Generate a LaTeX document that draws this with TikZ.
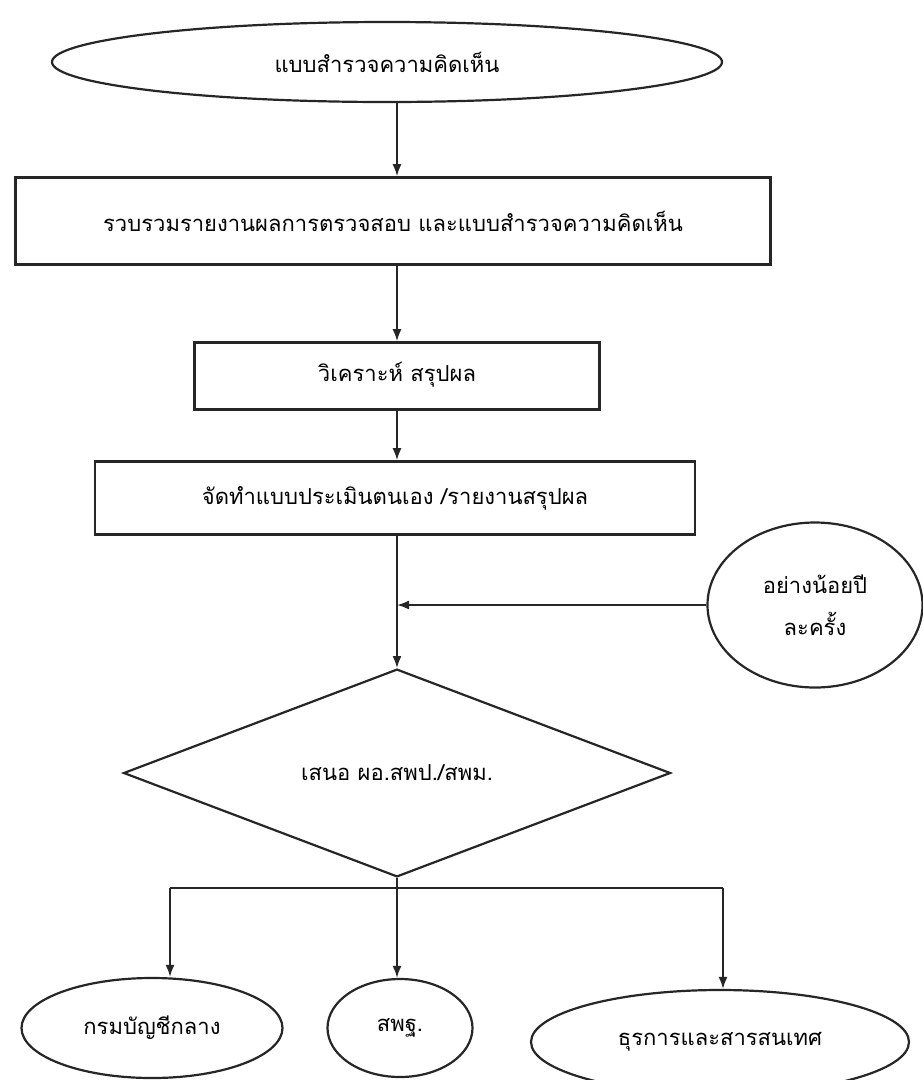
\documentclass[tikz,border=0pt]{standalone}
\usepackage{fontspec}
\newfontfamily\thaifont[Script=Thai]{Loma}
\usetikzlibrary{shapes.geometric,arrows.meta}

\tikzset{
  flowbox/.style={draw=black!85, line width=2.6pt, rectangle, inner sep=0pt},
  oval/.style={draw=black!85, line width=2.2pt, ellipse, inner sep=0pt},
  decide/.style={draw=black!85, line width=2.2pt, diamond, inner sep=0pt},
  flow/.style={draw=black!85, line width=1.8pt},
  tip/.style={flow, -{Latex[length=12pt,width=9pt]}}
}

\begin{document}
\begin{tikzpicture}[x=1pt,y=-1pt]
\thaifont\fontsize{22}{26}\selectfont
\useasboundingbox (0,0) rectangle (923,1080);

\node[oval, minimum width=670pt, minimum height=80pt] (survey) at (387,62) {แบบสำรวจความคิดเห็น};
\node[flowbox, minimum width=755pt, minimum height=87pt] (collect) at (393,221) {รวบรวมรายงานผลการตรวจสอบ และแบบสำรวจความคิดเห็น};
\node[flowbox, minimum width=405pt, minimum height=67pt, text depth=8pt] (analyse) at (397,376) {วิเคราะห์ สรุปผล};
\node[flowbox, minimum width=600pt, minimum height=73pt] (report) at (395,498) {จัดทำแบบประเมินตนเอง /รายงานสรุปผล};
\node[oval, minimum width=215pt, minimum height=165pt, align=center] (yearly) at (815,605) {อย่างน้อยปี\\[16pt]ละครั้ง};
\node[decide, minimum width=547pt, minimum height=157pt] (propose) at (397,773) {เสนอ ผอ.สพป./สพม.};
\node[oval, minimum width=261pt, minimum height=100pt] (cgd) at (152,1028) {กรมบัญชีกลาง};
\node[oval, minimum width=145pt, minimum height=98pt] (obec) at (400,1028) {สพฐ.};
\node[oval, minimum width=378pt, minimum height=104pt] (admin) at (720,1042) {ธุรการและสารสนเทศ};

\coordinate (spine) at (397,0);
\draw[tip] (survey.south -| spine) -- (collect.north -| spine);
\draw[tip] (collect.south -| spine) -- (analyse.north -| spine);
\draw[tip] (analyse.south -| spine) -- (report.north -| spine);
\draw[tip] (report.south -| spine) -- (propose.north);
\coordinate (join) at (yearly.west -| spine);
\draw[tip] (yearly.west) -- (join);

\coordinate (fork) at (397,888);
\coordinate (forkL) at (170,888);
\coordinate (forkR) at (723,888);
\draw[flow] (propose.south) -- (fork);
\draw[flow] (forkL) -- (forkR);
\draw[tip] (forkL) -- (forkL |- cgd.north);
\draw[tip] (fork) -- (fork |- obec.north);
\draw[tip] (forkR) -- (forkR |- admin.north);
\end{tikzpicture}
\end{document}
